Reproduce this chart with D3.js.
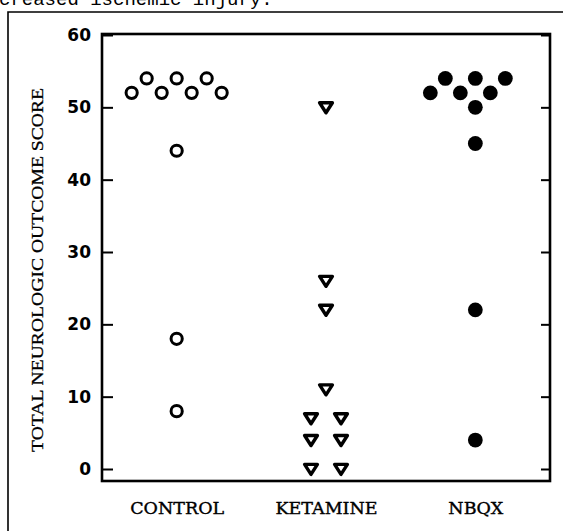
<!DOCTYPE html>
<html lang="en">
  <head>
    <meta charset="UTF-8" />
    <title>Neurologic outcome score</title>
    <style>
      body {
        margin: 0;
        background: #fff;
      }
      .tick line {
        stroke: #000;
        stroke-width: 2px;
      }
    </style>
  </head>
  <body>
    <div id="chart"></div>
    <script src="https://cdn.jsdelivr.net/npm/d3@7"></script>
    <script>
      /* global d3 */

      // data
      const groups = ["CONTROL", "KETAMINE", "NBQX"];
      const control = [54, 54, 54, 52, 52, 52, 52, 44, 18, 8];
      const ketamine = [50, 26, 22, 11, 7, 7, 4, 4, 0, 0];
      const nbqx = [54, 54, 54, 52, 52, 52, 50, 45, 22, 4];
      const yTicks = [0, 10, 20, 30, 40, 50, 60];

      let width = 563,
        height = 531;

      let svg = d3
        .select("#chart")
        .append("svg")
        .attr("width", width)
        .attr("height", height);

      // cut off caption line from the page above
      svg
        .append("text")
        .attr("x", -1)
        .attr("y", 5)
        .style("font-family", "'Liberation Mono', 'DejaVu Sans Mono', monospace")
        .style("font-size", "19px")
        .text("creased ischemic injury.");

      // outer frame of the page figure
      svg
        .append("path")
        .attr("d", "M8,531V12H563")
        .attr("fill", "none")
        .attr("stroke", "#000")
        .attr("stroke-width", 1.6);

      let box = { left: 102, right: 550, top: 34, bottom: 481 };

      let x = d3
        .scalePoint()
        .domain(groups)
        .range([box.left, box.right])
        .padding(0.5);

      let y = d3.scaleLinear().domain([0, 60]).range([469, 35]);

      // spread points that would overlap
      function dodge(values, step, minDist) {
        let placed = [];
        values.forEach(function (v) {
          let py = y(v);
          for (let k = 0; ; k++) {
            let off = k === 0 ? 0 : (k % 2 ? -1 : 1) * Math.ceil(k / 2) * step;
            let free = placed.every(function (p) {
              return Math.hypot(p.dx - off, p.y - py) >= minDist;
            });
            if (free) {
              placed.push({ value: v, y: py, dx: off });
              break;
            }
          }
        });
        // rows of one value standing alone get centred
        d3.group(placed, (p) => p.value).forEach(function (row, v) {
          let alone = placed.every(function (p) {
            return p.value === v || Math.abs(p.y - y(v)) >= minDist;
          });
          if (!alone) return;
          let mid = (d3.min(row, (p) => p.dx) + d3.max(row, (p) => p.dx)) / 2;
          row.forEach((p) => (p.dx -= mid));
        });
        return placed;
      }

      svg
        .append("rect")
        .attr("x", box.left)
        .attr("y", box.top)
        .attr("width", box.right - box.left)
        .attr("height", box.bottom - box.top)
        .attr("fill", "none")
        .attr("stroke", "#000")
        .attr("stroke-width", 2.6);

      let yAxis = svg
        .append("g")
        .attr("transform", "translate(" + box.left + ",0)")
        .call(d3.axisLeft(y).tickValues(yTicks).tickSize(-11).tickPadding(11));
      yAxis.select(".domain").remove();
      yAxis
        .selectAll("text")
        .attr("fill", "#000")
        .style("font-family", "'DejaVu Sans', sans-serif")
        .style("font-weight", "bold")
        .style("font-size", "17px");

      let yAxisR = svg
        .append("g")
        .attr("transform", "translate(" + box.right + ",0)")
        .call(d3.axisRight(y).tickValues(yTicks).tickSize(-9).tickFormat(""));
      yAxisR.select(".domain").remove();

      let xAxis = svg
        .append("g")
        .attr("transform", "translate(0,496)")
        .call(d3.axisBottom(x).tickSize(0).tickPadding(0));
      xAxis.select(".domain").remove();
      xAxis
        .selectAll("text")
        .attr("fill", "#000")
        .attr("stroke", "#000")
        .attr("stroke-width", 0.4)
        .attr("dy", "1em")
        .style("font-family", "'DejaVu Serif', serif")
        .style("font-size", "17.5px");

      svg
        .append("text")
        .attr("transform", "translate(43,270) rotate(-90)")
        .attr("text-anchor", "middle")
        .attr("textLength", 364)
        .attr("lengthAdjust", "spacingAndGlyphs")
        .attr("stroke", "#000")
        .attr("stroke-width", 0.3)
        .style("font-family", "'Liberation Serif', serif")
        .style("font-size", "17px")
        .text("TOTAL NEUROLOGIC OUTCOME SCORE");

      // CONTROL: open circles
      svg
        .append("g")
        .selectAll("circle")
        .data(dodge(control, 15, 16))
        .join("circle")
        .attr("cx", (d) => x("CONTROL") + d.dx)
        .attr("cy", (d) => d.y)
        .attr("r", 5.6)
        .attr("fill", "#fff")
        .attr("stroke", "#000")
        .attr("stroke-width", 3);

      // KETAMINE: open down triangles
      svg
        .append("g")
        .selectAll("path")
        .data(dodge(ketamine, 15, 16))
        .join("path")
        .attr("transform", (d) => "translate(" + (x("KETAMINE") + d.dx) + "," + d.y + ")")
        .attr("d", "M-6.4,-4.6H6.4L0,5.4Z")
        .attr("fill", "#fff")
        .attr("stroke", "#000")
        .attr("stroke-width", 3.4)
        .attr("stroke-linejoin", "round");

      // NBQX: filled circles
      svg
        .append("g")
        .selectAll("circle")
        .data(dodge(nbqx, 15, 16))
        .join("circle")
        .attr("cx", (d) => x("NBQX") + d.dx)
        .attr("cy", (d) => d.y)
        .attr("r", 7.4)
        .attr("fill", "#000");
    </script>
  </body>
</html>
